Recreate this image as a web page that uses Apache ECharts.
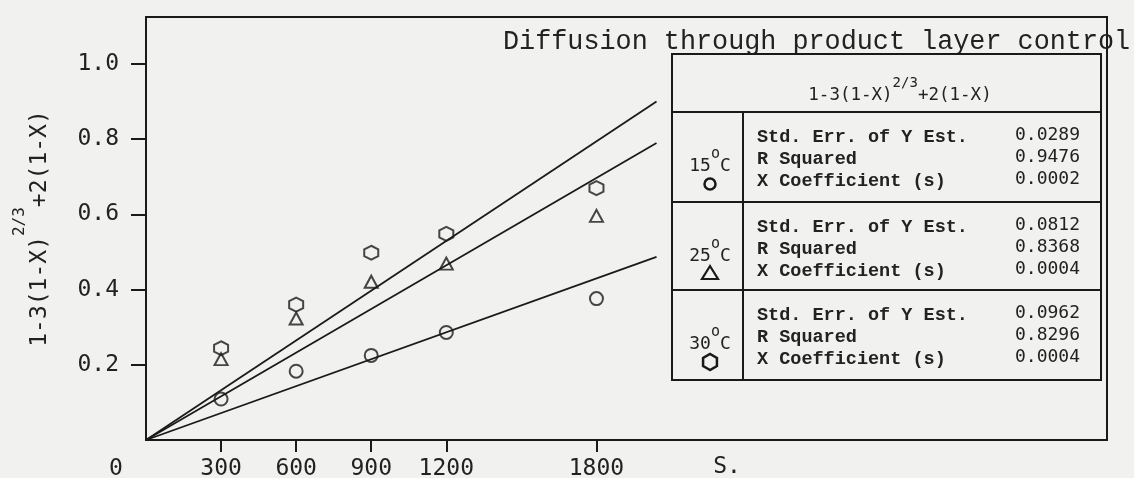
<!DOCTYPE html>
<html>
<head>
<meta charset="utf-8">
<script src="https://cdn.jsdelivr.net/npm/echarts@6/dist/echarts.min.js"></script>
<style>
html,body{margin:0;padding:0;background:#f1f1ef;}
#c{width:1134px;height:478px;}
</style>
</head>
<body>
<div id="c"></div>
<script>
// ---- data ----
const timeSec = [300, 600, 900, 1200, 1800];
const y15 = [0.109, 0.183, 0.225, 0.286, 0.376];
const y25 = [0.215, 0.323, 0.421, 0.469, 0.596];
const y30 = [0.244, 0.360, 0.498, 0.548, 0.670];
const fitX = [0, 2040];
const fit15 = [0, 0.487];
const fit25 = [0, 0.790];
const fit30 = [0, 0.900];
const xTickValues = [300, 600, 900, 1200, 1800];
const xLabelValues = [0, 300, 600, 900, 1200, 1800];
const yTickValues = [0.2, 0.4, 0.6, 0.8, 1.0];
const xUnit = 'S.';
const titleText = 'Diffusion through product layer control';
const tempLabels = ['15', '25', '30'];
const statNames = ['Std. Err. of Y Est.', 'R Squared', 'X Coefficient (s)'];
const stats15 = ['0.0289', '0.9476', '0.0002'];
const stats25 = ['0.0812', '0.8368', '0.0004'];
const stats30 = ['0.0962', '0.8296', '0.0004'];

const INK = '#1a1a1a';
const TXT = '#222222';
const MONO = '"Liberation Mono", "DejaVu Sans Mono", monospace';
const SANSMONO = '"DejaVu Sans Mono", "Liberation Mono", monospace';
const HEX = 'path://M0,-10L8.66,-5L8.66,5L0,10L-8.66,5L-8.66,-5Z';

function pairs(xs, ys) { return xs.map((x, i) => [x, ys[i]]); }

const markerStyle = { color: 'rgba(0,0,0,0)', borderColor: INK, borderWidth: 2 };

// ---- table / annotation graphic ----
const T = { left: 672, right: 1101, top: 54, rows: [112, 202, 290, 380], divX: 743 };
const statsAll = [stats15, stats25, stats30];
const graphics = [];
graphics.push({ type: 'text', x: 503, y: 42, style: { text: titleText, font: '26.8px ' + MONO, fill: TXT, textVerticalAlign: 'middle', verticalAlign: 'middle' } });
graphics.push({ type: 'text', x: 727, y: 467, style: { text: xUnit, font: '23px ' + SANSMONO, fill: TXT, textAlign: 'center', align: 'center', textVerticalAlign: 'middle', verticalAlign: 'middle' } });
graphics.push({ type: 'rect', shape: { x: T.left, y: T.top, width: T.right - T.left, height: T.rows[3] - T.top }, style: { fill: 'none', stroke: INK, lineWidth: 2 } });
for (let i = 0; i < 3; i++) {
  graphics.push({ type: 'line', shape: { x1: T.left, y1: T.rows[i], x2: T.right, y2: T.rows[i] }, style: { stroke: INK, lineWidth: 2 } });
}
graphics.push({ type: 'line', shape: { x1: T.divX, y1: T.rows[0], x2: T.divX, y2: T.rows[3] }, style: { stroke: INK, lineWidth: 2 } });
graphics.push({ type: 'text', x: 900, y: 90, style: {
  text: '{m|1-3(1-X)}{s|2/3}{m|+2(1-X)}', textAlign: 'center', align: 'center', textVerticalAlign: 'middle', verticalAlign: 'middle',
  rich: { m: { font: '17.5px ' + SANSMONO, fill: TXT, lineHeight: 28, verticalAlign: 'bottom' },
          s: { font: '14px ' + SANSMONO, fill: TXT, lineHeight: 28, verticalAlign: 'top' } } } });
for (let r = 0; r < 3; r++) {
  const top = T.rows[r];
  for (let k = 0; k < 3; k++) {
    const y = top + 25 + k * 22;
    graphics.push({ type: 'text', x: 757, y: y, style: { text: statNames[k], font: 'bold 18.5px ' + MONO, fill: TXT, textVerticalAlign: 'middle', verticalAlign: 'middle' } });
    graphics.push({ type: 'text', x: 1080, y: y - 2, style: { text: statsAll[r][k], font: '18px ' + SANSMONO, fill: TXT, textAlign: 'right', align: 'right', textVerticalAlign: 'middle', verticalAlign: 'middle' } });
  }
  graphics.push({ type: 'text', x: 710, y: top + 49, style: {
    text: '{a|' + tempLabels[r] + '}{o|o}{a|C}', textAlign: 'center', align: 'center', textVerticalAlign: 'middle', verticalAlign: 'middle',
    rich: { a: { font: '18px ' + SANSMONO, fill: TXT, lineHeight: 28, verticalAlign: 'bottom' },
            o: { font: '15px ' + SANSMONO, fill: TXT, lineHeight: 28, verticalAlign: 'top' } } } });
  const cy = top + 72;
  if (r === 0) graphics.push({ type: 'circle', shape: { cx: 710, cy: cy, r: 5.5 }, style: { fill: 'none', stroke: INK, lineWidth: 2.5 } });
  if (r === 1) graphics.push({ type: 'polygon', shape: { points: [[710, cy - 8], [718, cy + 5], [702, cy + 5]] }, style: { fill: 'none', stroke: INK, lineWidth: 2.2 } });
  if (r === 2) {
    const pts = [];
    for (let a = 0; a < 6; a++) { const t = Math.PI / 2 + a * Math.PI / 3; pts.push([710 + 8 * Math.cos(t), cy + 8 * Math.sin(t)]); }
    graphics.push({ type: 'polygon', shape: { points: pts }, style: { fill: 'none', stroke: INK, lineWidth: 2.5 } });
  }
}

const chart = echarts.init(document.getElementById('c'), null, { renderer: 'canvas' });
chart.setOption({
  backgroundColor: '#f1f1ef',
  animation: false,
  grid: { left: 146, right: 27, top: 17, bottom: 38, show: true, borderColor: INK, borderWidth: 2, containLabel: false, outerBoundsMode: 'none' },
  xAxis: {
    type: 'value', min: 0, max: 3840,
    axisLine: { show: true, lineStyle: { color: INK, width: 2 } },
    axisTick: { show: true, customValues: xTickValues, length: 12, inside: false, lineStyle: { color: INK, width: 2 } },
    axisLabel: { customValues: xLabelValues, margin: 18, color: TXT, fontFamily: SANSMONO, fontSize: 23,
      formatter: v => v === 0 ? '{z|0}' : String(v),
      rich: { z: { fontFamily: SANSMONO, fontSize: 23, color: TXT, padding: [0, 60, 0, 0] } } },
    splitLine: { show: false }
  },
  yAxis: {
    type: 'value', min: 0, max: 1.125,
    axisLine: { show: true, lineStyle: { color: INK, width: 2 } },
    axisTick: { show: true, customValues: yTickValues, length: 15, inside: false, lineStyle: { color: INK, width: 2 } },
    axisLabel: { customValues: yTickValues, margin: 27, color: TXT, fontFamily: SANSMONO, fontSize: 23, formatter: v => v.toFixed(1) },
    splitLine: { show: false },
    name: '{m|1-3(1-X)}{s|2/3}{m|+2(1-X)}', nameLocation: 'middle', nameRotate: 90, nameGap: 94,
    nameTextStyle: { rich: {
      m: { fontFamily: SANSMONO, fontSize: 23, color: TXT, lineHeight: 40, verticalAlign: 'bottom' },
      s: { fontFamily: SANSMONO, fontSize: 16, color: TXT, lineHeight: 40, verticalAlign: 'top' } } }
  },
  graphic: graphics,
  series: [
    { type: 'line', data: pairs(fitX, fit15), showSymbol: false, lineStyle: { color: INK, width: 1.8 }, z: 2 },
    { type: 'line', data: pairs(fitX, fit25), showSymbol: false, lineStyle: { color: INK, width: 1.8 }, z: 2 },
    { type: 'line', data: pairs(fitX, fit30), showSymbol: false, lineStyle: { color: INK, width: 1.8 }, z: 2 },
    { type: 'scatter', name: '15°C', data: pairs(timeSec, y15), symbol: 'circle', symbolSize: 13, itemStyle: markerStyle, z: 3 },
    { type: 'scatter', name: '25°C', data: pairs(timeSec, y25), symbol: 'triangle', symbolSize: [13, 12], itemStyle: markerStyle, z: 3 },
    { type: 'scatter', name: '30°C', data: pairs(timeSec, y30), symbol: HEX, symbolSize: 14, itemStyle: markerStyle, z: 3 }
  ]
});
</script>
</body>
</html>
